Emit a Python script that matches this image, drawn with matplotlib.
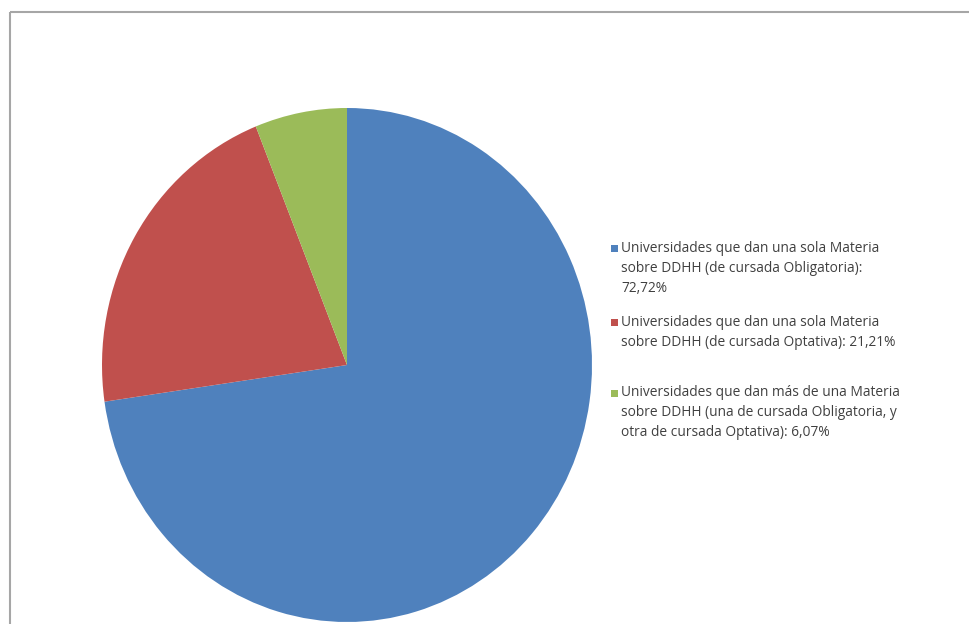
import matplotlib
matplotlib.use("Agg")
import matplotlib.pyplot as plt

labels = [
    "Universidades que dan una sola Materia\nsobre DDHH (de cursada Obligatoria):\n72,72%",
    "Universidades que dan una sola Materia\nsobre DDHH (de cursada Optativa): 21,21%",
    "Universidades que dan más de una Materia\nsobre DDHH (una de cursada Obligatoria, y\notra de cursada Optativa): 6,07%",
]
values = [72.72, 21.21, 6.07]
colors = ["#4F81BD", "#C0504D", "#9BBB59"]

W, H = 969, 624
fig = plt.figure(figsize=(W / 100, H / 100), dpi=100)

# background axes in pixel coordinates (y downwards)
bg = fig.add_axes([0, 0, 1, 1])
bg.set_xlim(0, W)
bg.set_ylim(H, 0)
bg.axis("off")

# pie axes spanning the (slightly elliptical) pie bounding box
px0, px1, py0, py1 = 102, 592, 108, 622
pax = fig.add_axes([px0 / W, (H - py1) / H, (px1 - px0) / W, (py1 - py0) / H])
pax.pie(values, colors=colors, startangle=90, counterclock=False,
        radius=1, center=(0, 0), wedgeprops=dict(linewidth=0))
pax.set_aspect("auto")
pax.set_xlim(-1, 1)
pax.set_ylim(-1, 1)
pax.axis("off")

# outer frame (only top and left edges visible)
bg.plot([10, 10], [12, H], color="#a6a6a6", lw=1.5, solid_capstyle="butt")
bg.plot([10, W], [12, 12], color="#a6a6a6", lw=1.5, solid_capstyle="butt")

# legend
entry_tops = [248, 322, 393]
step = 20
for lab, col, y0 in zip(labels, colors, entry_tops):
    bg.add_patch(plt.Rectangle((611, y0 - 3.5), 7, 7, color=col, lw=0))
    for i, line in enumerate(lab.split("\n")):
        bg.text(621, y0 + i * step, line, fontsize=9.9, family="Open Sans",
                color="#404040", va="center", ha="left")

fig.savefig("out.png", dpi=100)
